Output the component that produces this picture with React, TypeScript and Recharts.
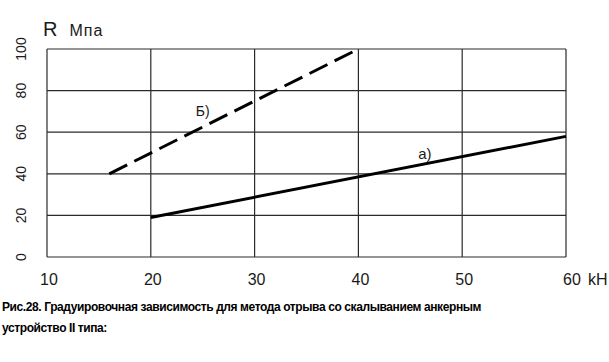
import React from 'react';
import { LineChart, Line, XAxis, YAxis, CartesianGrid, ReferenceDot } from 'recharts';

const xTicks = [10, 20, 30, 40, 50, 60];
const yTicks = [0, 20, 40, 60, 80, 100];
const lineAX = [20, 60];
const lineAY = [19, 58];
const lineBX = [16, 40];
const lineBY = [40, 100];
const lineALabel = 'а)';
const lineBLabel = 'Б)';
const yUnitSymbol = 'R';
const yUnit = 'Мпа';
const xUnit = 'kH';
const captionLines = [
  'Рис.28. Градуировочная зависимость для метода отрыва со скалыванием анкерным',
  'устройство II типа:',
];

const seriesA = lineAX.map((x, i) => ({ x, y: lineAY[i] }));
const seriesB = lineBX.map((x, i) => ({ x, y: lineBY[i] }));

const FONT = '"Liberation Sans", Arial, sans-serif';
const INK = '#1a1a1a';

const XTick = (props: any) => {
  const { x, payload } = props;
  const v = payload.value;
  return (
    <g>
      <text x={x + (v === 60 ? 6 : 2)} y={285} textAnchor="middle" fontFamily={FONT} fontSize={16} fill={INK}>
        {v}
      </text>
      {v === 60 ? (
        <text x={x + 22} y={285} textAnchor="start" fontFamily={FONT} fontSize={16} fill={INK}>
          {xUnit}
        </text>
      ) : null}
    </g>
  );
};

const YTick = (props: any) => {
  const { y, payload } = props;
  return (
    <text
      x={21}
      y={y}
      transform={`rotate(-90 21 ${y})`}
      textAnchor="middle"
      dominantBaseline="central"
      fontFamily={FONT}
      fontSize={14}
      fill={INK}
    >
      {payload.value}
    </text>
  );
};

export default function App() {
  return (
    <div style={{ position: 'absolute', left: 0, top: 0, width: 609, height: 362, background: '#fff' }}>
      <LineChart width={609} height={362} margin={{ top: 49, right: 43, bottom: 0, left: 0 }}>
        <CartesianGrid stroke="#2a2a2a" strokeWidth={1.2} />
        <XAxis
          dataKey="x"
          type="number"
          domain={[10, 60]}
          ticks={xTicks}
          height={105}
          axisLine={false}
          tickLine={false}
          tick={<XTick />}
          allowDuplicatedCategory={false}
        />
        <YAxis
          type="number"
          domain={[0, 100]}
          ticks={yTicks}
          width={47}
          axisLine={false}
          tickLine={false}
          tick={<YTick />}
        />
        <Line
          data={seriesA}
          dataKey="y"
          stroke="#000"
          strokeWidth={3}
          dot={false}
          isAnimationActive={false}
        />
        <Line
          data={seriesB}
          dataKey="y"
          stroke="#000"
          strokeWidth={3}
          strokeDasharray="20 8"
          dot={false}
          isAnimationActive={false}
        />
        <ReferenceDot
          x={25}
          y={70}
          r={0}
          fill="none"
          stroke="none"
          label={{ value: lineBLabel, position: 'center', fontFamily: FONT, fontSize: 14, fill: INK }}
        />
        <ReferenceDot
          x={46.4}
          y={49.5}
          r={0}
          fill="none"
          stroke="none"
          label={{ value: lineALabel, position: 'center', fontFamily: FONT, fontSize: 15, fill: INK }}
        />
      </LineChart>
      <div style={{ position: 'absolute', left: 43, top: 18, fontFamily: FONT, color: INK, whiteSpace: 'nowrap' }}>
        <span style={{ fontSize: 20 }}>{yUnitSymbol}</span>
        <span style={{ fontSize: 16, marginLeft: 12, letterSpacing: 1 }}>{yUnit}</span>
      </div>
      <div
        style={{
          position: 'absolute',
          left: 2,
          top: 297,
          fontFamily: FONT,
          fontWeight: 'bold',
          fontSize: 12,
          lineHeight: '21px',
          letterSpacing: -0.4,
          color: '#000',
          whiteSpace: 'nowrap',
        }}
      >
        {captionLines.map((l, i) => (
          <div key={i}>{l}</div>
        ))}
      </div>
    </div>
  );
}
